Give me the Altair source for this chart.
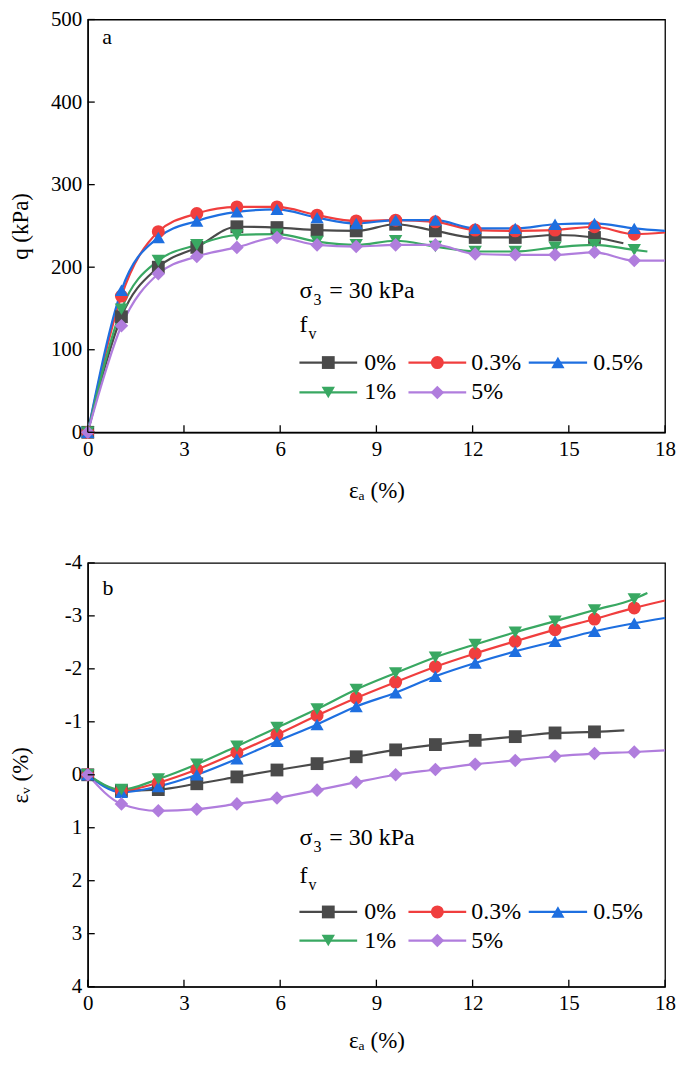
import altair as alt
import pandas as pd

FONT = "'Liberation Serif', 'Times New Roman', 'DejaVu Serif', serif"

# ---------------- data ----------------
series = ["0%", "0.3%", "0.5%", "1%", "5%"]
colors = ["#4a4a4a", "#f03e3e", "#1e6fe0", "#39a862", "#b07ddd"]
shapes = ["square", "circle", "triangle-up", "triangle-down", "diamond"]
marker_sizes = [165, 185, 230, 230, 250]

x_ticks = [0, 3, 6, 9, 12, 15, 18]
q_ticks = [0, 100, 200, 300, 400, 500]
ev_ticks = [-4, -3, -2, -1, 0, 1, 2, 3, 4]

ea_markers = [0, 1.05, 2.2, 3.4, 4.65, 5.9, 7.15, 8.37, 9.6, 10.84, 12.08, 13.33, 14.57, 15.8, 17.04]

# panel a : q (kPa) at the marker strains
q_0 = [0, 140, 200, 224, 249, 248, 245, 244, 252, 244, 236, 236, 239, 236]
q_03 = [0, 165, 243, 265, 273, 273, 263, 256, 257, 255, 245, 244, 245, 249, 240]
q_05 = [0, 172, 236, 256, 267, 270, 260, 253, 257, 257, 247, 247, 252, 253, 247]
q_1 = [0, 149, 208, 227, 239, 240, 231, 227, 232, 225, 219, 219, 224, 227, 221]
q_5 = [0, 129, 192, 213, 224, 236, 227, 225, 227, 227, 216, 215, 215, 218, 208]
q_end_ea = [16.7, 18.0, 18.0, 17.45, 18.0]
q_end = [229, 242, 244, 219, 208]

# panel b : volumetric strain (%) at the marker strains
ev_0 = [0, 0.30, 0.28, 0.17, 0.04, -0.09, -0.21, -0.34, -0.47, -0.57, -0.65, -0.72, -0.79, -0.81]
ev_03 = [0, 0.30, 0.15, -0.10, -0.42, -0.76, -1.12, -1.45, -1.75, -2.04, -2.29, -2.52, -2.74, -2.94, -3.15]
ev_05 = [0, 0.33, 0.22, 0.00, -0.30, -0.63, -0.95, -1.29, -1.55, -1.86, -2.11, -2.33, -2.52, -2.71, -2.86]
ev_1 = [0, 0.28, 0.08, -0.20, -0.54, -0.89, -1.24, -1.61, -1.92, -2.22, -2.46, -2.69, -2.90, -3.11, -3.32]
ev_5 = [0, 0.55, 0.68, 0.65, 0.55, 0.44, 0.29, 0.14, 0.00, -0.10, -0.20, -0.27, -0.35, -0.40, -0.43]
ev_end_ea = [16.73, 18.0, 18.0, 17.45, 18.0]
ev_end = [-0.84, -3.29, -2.96, -3.43, -0.46]

# legend layout (in data x units)
leg_x1 = [6.6, 10.0, 13.75, 6.6, 10.0]
leg_x2 = [8.4, 11.8, 15.57, 8.4, 11.8]
leg_xm = [7.5, 10.9, 14.66, 7.5, 10.9]
leg_xt = [8.62, 11.96, 15.76, 8.62, 11.96]
leg_row = [0, 0, 0, 1, 1]
leg_text_x = 6.6


def tables(vals, end_x, end_v):
    lines, pts = [], []
    for s, v, ex, ev in zip(series, vals, end_x, end_v):
        for x, y in zip(ea_markers, v):
            pts.append({"series": s, "ea": x, "v": y})
            lines.append({"series": s, "ea": x, "v": y})
        lines.append({"series": s, "ea": ex, "v": ev})
    return pd.DataFrame(lines), pd.DataFrame(pts)


color_enc = alt.Color("series:N", scale=alt.Scale(domain=series, range=colors), legend=None)
shape_enc = alt.Shape("series:N", scale=alt.Scale(domain=series, range=shapes), legend=None)
size_enc = alt.Size("series:N", scale=alt.Scale(domain=series, range=marker_sizes), legend=None)

W = 579


def panel(vals, end_x, end_v, y_domain, y_reverse, y_ticks, y_title, H,
          rows_y, sig_y, f_y, letter, letter_x, letter_y, x_title_pad):
    line_df, pt_df = tables(vals, end_x, end_v)
    xs = alt.Scale(domain=[0, 18], nice=False, zero=False)
    ys = alt.Scale(domain=y_domain, nice=False, zero=False, reverse=y_reverse)
    xax = alt.Axis(values=x_ticks, title="εₐ (%)", ticks=False, tickSize=0,
                   labelPadding=6, titlePadding=x_title_pad, labelFlush=False,
                   grid=False, labelAngle=0)
    yax = alt.Axis(values=y_ticks, title=y_title, ticks=False, tickSize=0,
                   labelPadding=6, labelExpr="'' + datum.value", grid=False,
                   titleX=-67, titleY=H / 2, titleAngle=270,
                   titleBaseline="middle", titleAlign="center")

    def X(f):
        return alt.X(f, type="quantitative", scale=xs, axis=xax)

    def Y(f):
        return alt.Y(f, type="quantitative", scale=ys, axis=yax)

    lines = alt.Chart(line_df).mark_line(strokeWidth=2.2, interpolate="monotone").encode(
        x=X("ea"), y=Y("v"), color=color_enc)
    pts = alt.Chart(pt_df).mark_point(filled=True, opacity=1, strokeWidth=0).encode(
        x=X("ea"), y=Y("v"), color=color_enc, shape=shape_enc, size=size_enc)

    xt_df = pd.DataFrame({"t": x_ticks})
    yt_df = pd.DataFrame({"t": y_ticks})
    xtick = alt.Chart(xt_df).mark_rule(color="black", strokeWidth=1.3).encode(
        x=X("t"), y=alt.value(H), y2=alt.value(H - 7))
    ytick = alt.Chart(yt_df).mark_rule(color="black", strokeWidth=1.3).encode(
        y=Y("t"), x=alt.value(0), x2=alt.value(7))

    leg_df = pd.DataFrame({
        "series": series, "x1": leg_x1, "x2": leg_x2, "xm": leg_xm, "xt": leg_xt,
        "y": [rows_y[r] for r in leg_row],
    })
    leg_lines = alt.Chart(leg_df).mark_rule(strokeWidth=2.2).encode(
        x=X("x1"), x2="x2", y=Y("y"), color=color_enc)
    leg_pts = alt.Chart(leg_df).mark_point(filled=True, opacity=1, strokeWidth=0).encode(
        x=X("xm"), y=Y("y"), color=color_enc, shape=shape_enc, size=size_enc)
    leg_txt = alt.Chart(leg_df).mark_text(align="left", baseline="middle", font=FONT,
                                          fontSize=24, color="black").encode(
        x=X("xt"), y=Y("y"), text="series:N")

    ann_sig = pd.DataFrame({"x": [leg_text_x], "y": [sig_y]})
    ann_f = pd.DataFrame({"x": [leg_text_x], "y": [f_y]})

    def txt(df, s, dx=0, dy=0, size=24):
        return alt.Chart(df).mark_text(align="left", baseline="alphabetic", font=FONT,
                                       fontSize=size, color="black", dx=dx, dy=dy,
                                       text=s).encode(x=X("x"), y=Y("y"))

    sig = txt(ann_sig, "σ") + txt(ann_sig, "3", dx=14, dy=7, size=16) + txt(ann_sig, "= 30 kPa", dx=30)
    fv = txt(ann_f, "f") + txt(ann_f, "v", dx=9, dy=7, size=16)
    let_df = pd.DataFrame({"x": [letter_x], "y": [letter_y]})
    let = txt(let_df, letter, size=22)

    return alt.layer(lines, pts, xtick, ytick, leg_lines, leg_pts, leg_txt,
                     sig, fv, let).properties(width=W, height=H)


HA = 414
HB = 425
pa = panel([q_0, q_03, q_05, q_1, q_5], q_end_ea, q_end, [0, 500], False, q_ticks,
           "q (kPa)", HA, rows_y=[84.5, 48.3], sig_y=163, f_y=122,
           letter="a", letter_x=0.45, letter_y=470, x_title_pad=20)
pb = panel([ev_0, ev_03, ev_05, ev_1, ev_5], ev_end_ea, ev_end, [-4, 4], True, ev_ticks,
           "εᵥ (%)", HB, rows_y=[2.59, 3.13], sig_y=1.33, f_y=2.04,
           letter="b", letter_x=0.46, letter_y=-3.40, x_title_pad=16)

chart = alt.vconcat(pa, pb, spacing=48).properties(
    padding={"left": 1, "top": -2, "right": 0, "bottom": 0}
).configure_axis(
    labelFont=FONT, labelFontSize=21, labelColor="black",
    titleFont=FONT, titleFontSize=23, titleColor="black", titleFontWeight="normal",
    domainColor="black", domainWidth=1.3,
).configure_view(stroke="black", strokeWidth=1.3)

chart.save("out.html", embed_options={"renderer": "svg", "actions": False})
